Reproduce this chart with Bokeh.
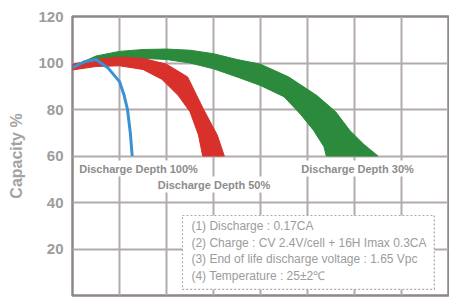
from bokeh.plotting import figure
from bokeh.models import Label, FixedTicker, Range1d
from bokeh.embed import file_html
from bokeh.resources import INLINE

# ---- data (x in cycles, y in capacity %) ----
blue_cycles = [0, 50, 100, 150, 200, 220, 234, 246, 254]
blue_cap = [98, 100.5, 101.5, 98, 92, 86, 80, 70, 60]

red_outer_cycles = [0, 100, 200, 300, 400, 490, 558, 616, 646]
red_outer_cap = [99.5, 101.5, 102.5, 102, 99.5, 94, 80, 69, 60]
red_inner_cycles = [0, 100, 200, 300, 380, 450, 500, 536, 554]
red_inner_cap = [97, 98.5, 98.8, 97.2, 93, 86, 79, 69, 60]

green_outer_cycles = [0, 100, 200, 300, 400, 500, 600, 700, 800, 920, 1040, 1120, 1180, 1240, 1300]
green_outer_cap = [98.5, 103, 105, 105.8, 106, 105.5, 104, 101.5, 99.5, 94, 86, 79, 71, 65, 60]
green_inner_cycles = [0, 100, 200, 300, 400, 500, 600, 700, 800, 900, 970, 1026, 1070, 1080]
green_inner_cap = [97.5, 100, 101.5, 102, 101.5, 100, 97.5, 94, 90.3, 85.5, 78, 71, 64, 60]

y_ticks = [20, 40, 60, 80, 100, 120]
x_grid = [200, 400, 600, 800, 1000, 1200, 1400]

depth_labels = ["Discharge Depth 100%", "Discharge Depth 50%", "Discharge Depth 30%"]
notes = [
    "(1) Discharge : 0.17CA",
    "(2) Charge : CV 2.4V/cell + 16H Imax 0.3CA",
    "(3) End of life discharge voltage : 1.65 Vpc",
    "(4) Temperature : 25±2℃",
]

GRAY = "#9c9c9c"

p = figure(width=449, height=297, output_backend="svg", toolbar_location=None,
           x_range=Range1d(0, 1600), y_range=Range1d(0, 120),
           min_border_left=72, min_border_right=1, min_border_top=16, min_border_bottom=2)

p.xaxis.visible = False
p.yaxis.ticker = FixedTicker(ticks=y_ticks)
p.yaxis.axis_line_color = None
p.yaxis.major_tick_line_color = None
p.yaxis.minor_tick_line_color = None
p.yaxis.major_tick_out = 0
p.yaxis.major_label_standoff = 9
p.yaxis.major_label_text_font = "Liberation Sans"
p.yaxis.major_label_text_font_style = "bold"
p.yaxis.major_label_text_font_size = "15px"
p.yaxis.major_label_text_color = GRAY
p.yaxis.axis_label = "Capacity %"
p.yaxis.axis_label_standoff = 10
p.yaxis.axis_label_text_font = "Liberation Sans"
p.yaxis.axis_label_text_font_style = "bold"
p.yaxis.axis_label_text_font_size = "16px"
p.yaxis.axis_label_text_color = "#a3a3a3"

p.xgrid.ticker = FixedTicker(ticks=x_grid)
p.ygrid.ticker = FixedTicker(ticks=y_ticks[:-1])
for g in (p.xgrid, p.ygrid):
    g.grid_line_color = "#b3abab"
    g.grid_line_width = 2
p.outline_line_color = "#8f8787"
p.outline_line_width = 2.5
p.background_fill_color = "white"

# bands
p.patch(green_outer_cycles + green_inner_cycles[::-1], green_outer_cap + green_inner_cap[::-1],
        fill_color="#2b8a3b", line_color="#2b8a3b", line_width=1)
p.patch(red_outer_cycles + red_inner_cycles[::-1], red_outer_cap + red_inner_cap[::-1],
        fill_color="#d8302b", line_color="#d8302b", line_width=1)
p.line(blue_cycles, blue_cap, line_color="#3a92d4", line_width=3)

# depth labels
depth_pos = [(281, 54.6), (602, 47.7), (1213, 54.6)]
for txt, (x, y) in zip(depth_labels, depth_pos):
    p.add_layout(Label(x=x, y=y, text=txt, text_align="center", text_baseline="middle",
                       text_font="Liberation Sans", text_font_style="bold", text_font_size="11px",
                       text_color="#8c8c8c", background_fill_color="white", padding=2))

# notes box
p.quad(left=[468], right=[1540], bottom=[2.6], top=[34.4], fill_color="white",
       line_color="#aaaaaa", line_dash="2 2", line_width=1.2)
note_y = [29.7, 22.4, 15.5, 8.2]
p.text(x=[506] * 4, y=note_y, text=notes, text_baseline="middle", text_align="left",
       text_font_size="12px", text_color=GRAY)

open("out.html", "w").write(file_html(p, INLINE))
